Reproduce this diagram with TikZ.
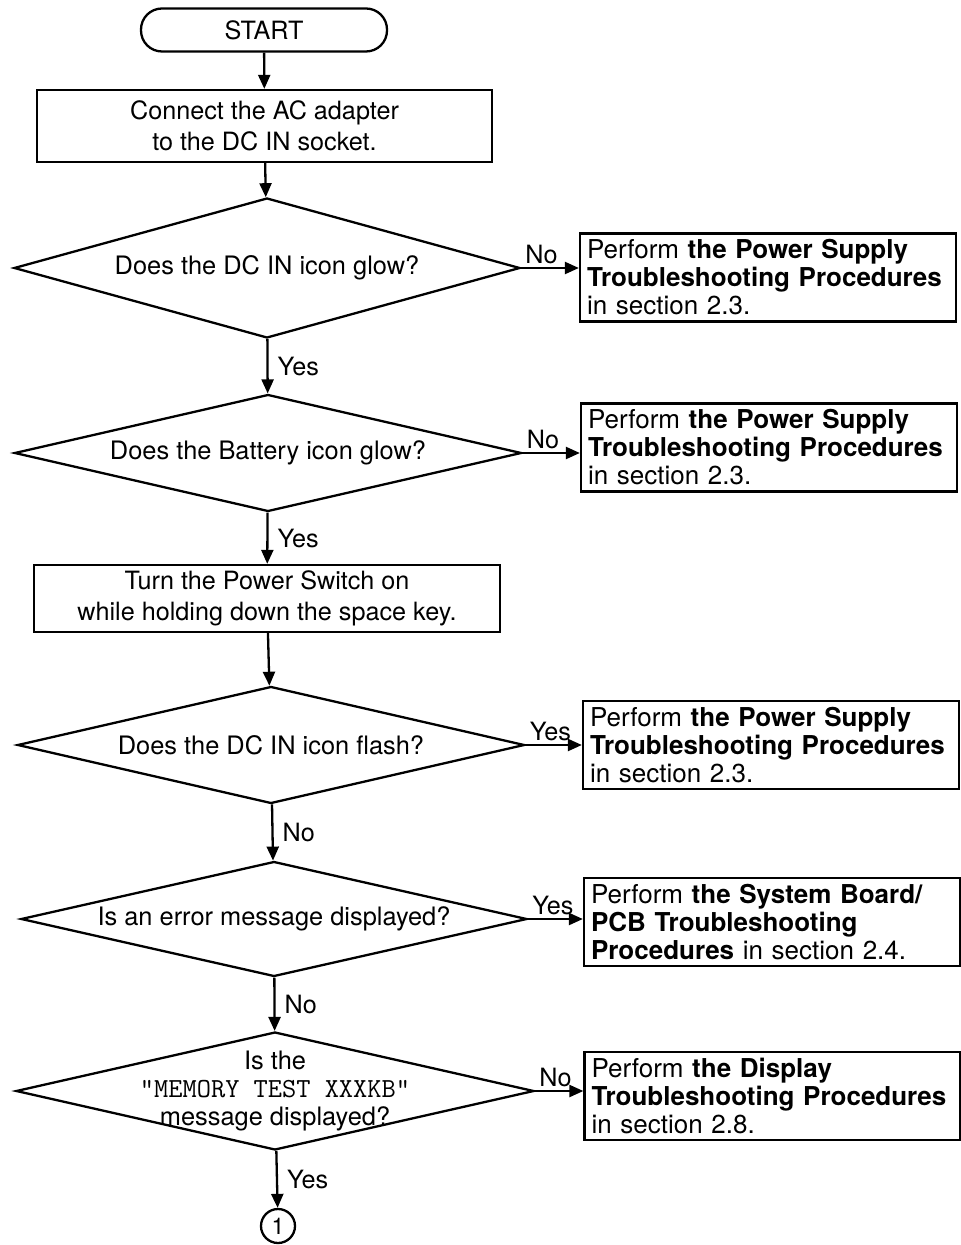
\documentclass[tikz,border=0pt]{standalone}
\usepackage{fontspec}
\setmainfont{TeX Gyre Heros}
\usetikzlibrary{shapes.geometric,arrows.meta}
\begin{document}
\begin{tikzpicture}[x=0.5pt, y=-0.5pt,
  base/.style={draw, line width=1.15pt, inner sep=0pt, align=center,
    font=\fontsize{12.6}{15.8}\selectfont},
  startbox/.style={base, rounded corners=10.5pt, minimum width=123pt, minimum height=21.5pt},
  actbox/.style={base},
  decision/.style={draw, line width=1.15pt, diamond, inner sep=0pt},
  dtext/.style={align=center, inner sep=0pt, font=\fontsize{12.7}{13.8}\selectfont},
  memo/.style={font=\ttfamily\fontsize{13.8}{13.8}\selectfont},
  refbox/.style={draw, line width=1.15pt, align=left, text width=181pt,
    inner xsep=3.5pt, inner ysep=0pt, minimum height=44pt,
    font=\fontsize{13}{14}\selectfont},
  conn/.style={circle, draw, line width=1.15pt, minimum size=17pt, inner sep=0pt,
    font=\fontsize{11.5}{12}\selectfont},
  arr/.style={-{Triangle[length=7pt,width=6pt]}, line width=1.15pt},
  lbl/.style={font=\fontsize{12.6}{14}\selectfont, inner sep=1.5pt}
]
\useasboundingbox (0,0) rectangle (960,1245);

% main column
\node[startbox] (start) at (264,30) {START};
\node[actbox, minimum width=227.5pt, minimum height=36pt] (connect) at (264.5,126)
  {Connect the AC adapter\\to the DC IN socket.};
\node[decision, minimum width=253pt, minimum height=70pt,
  label={[dtext]center:Does the DC IN icon glow?}] (dcglow) at (267,268) {};
\node[decision, minimum width=253.5pt, minimum height=58.5pt,
  label={[dtext]center:Does the Battery icon glow?}] (batglow) at (268,453) {};
\node[actbox, minimum width=233pt, minimum height=33.5pt] (power) at (267,598.5)
  {Turn the Power Switch on\\while holding down the space key.};
\node[decision, minimum width=253.5pt, minimum height=58.5pt,
  label={[dtext]center:Does the DC IN icon flash?}] (dcflash) at (271,745) {};
\node[decision, minimum width=253pt, minimum height=57.5pt,
  label={[dtext]center:Is an error message displayed?}] (errmsg) at (274,919) {};
\node[decision, minimum width=259pt, minimum height=59pt,
  label={[dtext]center:Is the\\{\ttfamily\fontsize{13.8}{13.8}\selectfont "MEMORY TEST XXXKB"}\\message displayed?}] (memtest) at (275,1091) {};
\node[conn] (next) at (278,1226) {1};

% referral boxes
\node[refbox] (ps1) at (768,277.5)
  {Perform \textbf{the Power Supply}\\\textbf{Troubleshooting Procedures}\\in section 2.3.};
\node[refbox] (ps2) at (769,447.5)
  {Perform \textbf{the Power Supply}\\\textbf{Troubleshooting Procedures}\\in section 2.3.};
\node[refbox] (ps3) at (771,745)
  {Perform \textbf{the Power Supply}\\\textbf{Troubleshooting Procedures}\\in section 2.3.};
\node[refbox] (sysb) at (772,922)
  {Perform \textbf{the System Board/}\\\textbf{PCB Troubleshooting}\\\textbf{Procedures} in section 2.4.};
\node[refbox] (disp) at (772.5,1096)
  {Perform \textbf{the Display}\\\textbf{Troubleshooting Procedures}\\in section 2.8.};

% vertical flow
\draw[arr] (start) -- (connect);
\draw[arr] (connect) -- (dcglow);
\draw[arr] (dcglow) -- node[lbl, right=3pt] {Yes} (batglow);
\draw[arr] (batglow) -- node[lbl, right=3pt] {Yes} (power);
\draw[arr] (power) -- (dcflash);
\draw[arr] (dcflash) -- node[lbl, right=3pt] {No} (errmsg);
\draw[arr] (errmsg) -- node[lbl, right=3pt] {No} (memtest);
\draw[arr] (memtest) -- node[lbl, right=3pt] {Yes} (next);

% branches to the right
\draw[arr] (dcglow.east) -- node[lbl, pos=0, anchor=south west] {No} (dcglow.east -| ps1.west);
\draw[arr] (batglow.east) -- node[lbl, pos=0, anchor=south west] {No} (batglow.east -| ps2.west);
\draw[arr] (dcflash.east) -- node[lbl, pos=0, anchor=south west] {Yes} (dcflash.east -| ps3.west);
\draw[arr] (errmsg.east) -- node[lbl, pos=0, anchor=south west] {Yes} (errmsg.east -| sysb.west);
\draw[arr] (memtest.east) -- node[lbl, pos=0, anchor=south west] {No} (memtest.east -| disp.west);
\end{tikzpicture}
\end{document}
